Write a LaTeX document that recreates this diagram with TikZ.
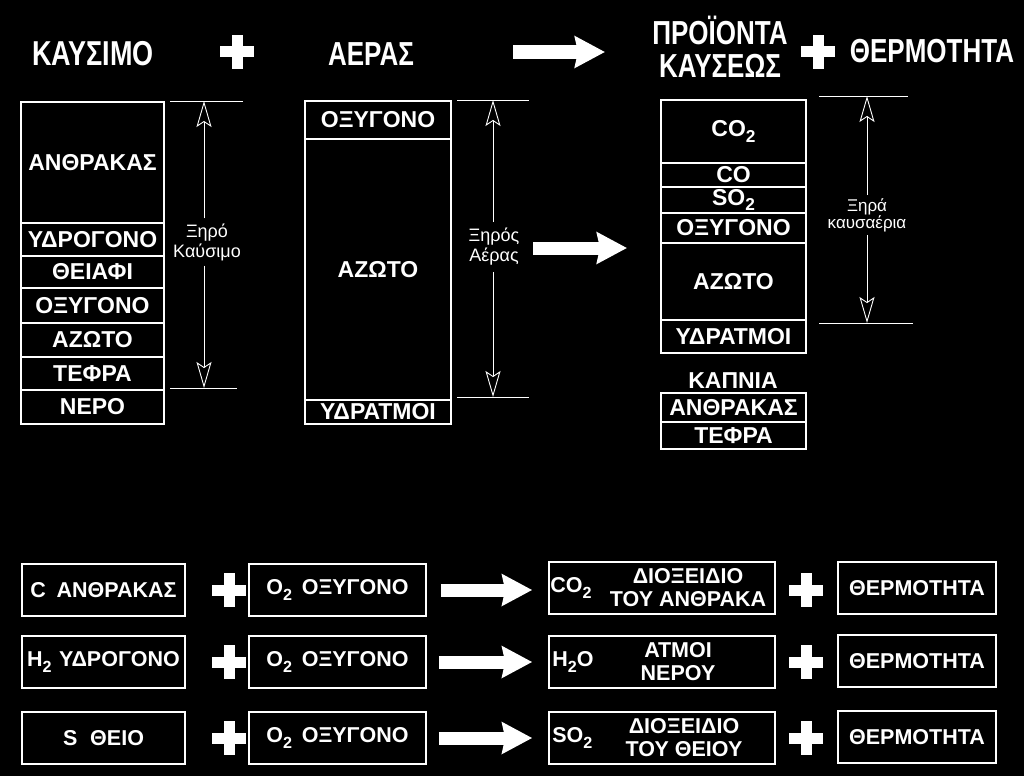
\documentclass[tikz,border=0pt]{standalone}
\usepackage{fontspec}
\setmainfont{Liberation Sans}
\usepackage{graphicx}
\usetikzlibrary{arrows.meta, positioning}

\newcommand{\tallhead}[1]{\scalebox{1}[1.28]{#1}}
\newcommand{\lowsub}[1]{\raisebox{-0.45ex}{\scalebox{0.75}{#1}}}

\begin{document}
\begin{tikzpicture}[
    x=1pt,
    y=-1pt,
    every node/.style={text=white},
    cell/.style={draw=white, line width=1.6pt, inner sep=0pt, anchor=north, font=\fontsize{23pt}{25pt}\selectfont\bfseries},
    header/.style={font=\fontsize{26pt}{25pt}\selectfont\bfseries},
    dimtext/.style={align=center, inner sep=5pt, font=\fontsize{18pt}{20pt}\selectfont},
    dimline/.style={draw=white, line width=0.9pt},
    dimarrow/.style={dimline, -{Stealth[open, length=26pt, width=15pt, inset=5pt]}},
    bigarrow/.style={draw=white, line width=13pt, -{Stealth[length=30pt, width=31pt, inset=3pt]}},
    eqbox/.style={draw=white, line width=1.6pt, minimum height=52pt, inner sep=2pt, font=\fontsize{21.5pt}{23pt}\selectfont\bfseries},
    eqtext/.style={inner sep=0pt, align=center, font=\fontsize{21.5pt}{23pt}\selectfont\bfseries},
    crosssign/.pic={\fill[white] (-17,-5.5) rectangle (17,5.5); \fill[white] (-5.5,-17) rectangle (5.5,17);}
]

% Background
\fill[black] (0,0) rectangle (1024,776);
\useasboundingbox (0,0) rectangle (1024,776);

% Headers
\node[header, font=\fontsize{27pt}{25pt}\selectfont\bfseries] (fuelHead) at (93,54) {\tallhead{ΚΑΥΣΙΜΟ}};
\pic at (237,52) {crosssign};
\node[header] (airHead) at (371,54) {\tallhead{ΑΕΡΑΣ}};
\coordinate (hdrArrowS) at (513,52);
\coordinate (hdrArrowE) at (605,52);
\draw[bigarrow] (hdrArrowS) -- (hdrArrowE);
\node[header] (prodHead) at (720,52) {\tallhead{\begin{tabular}{@{}c@{}}ΠΡΟΪΟΝΤΑ\\ΚΑΥΣΕΩΣ\end{tabular}}};
\pic at (818,52) {crosssign};
\node[header] (heatHead) at (932,51) {\tallhead{ΘΕΡΜΟΤΗΤΑ}};

% Fuel column
\node[cell, minimum width=143pt, minimum height=121pt] (fuelC) at (92.5,101) {ΑΝΘΡΑΚΑΣ};
\node[cell, minimum width=143pt, minimum height=33pt] (fuelH) at (92.5,222) {ΥΔΡΟΓΟΝΟ};
\node[cell, minimum width=143pt, minimum height=32pt] (fuelS) at (92.5,255) {ΘΕΙΑΦΙ};
\node[cell, minimum width=143pt, minimum height=35pt] (fuelO) at (92.5,287) {ΟΞΥΓΟΝΟ};
\node[cell, minimum width=143pt, minimum height=34pt] (fuelN) at (92.5,322) {ΑΖΩΤΟ};
\node[cell, minimum width=143pt, minimum height=33pt] (fuelAsh) at (92.5,356) {ΤΕΦΡΑ};
\node[cell, minimum width=143pt, minimum height=34pt] (fuelW) at (92.5,389) {ΝΕΡΟ};

% Dry fuel dimension
\coordinate (fuelTopL) at (170,101);
\coordinate (fuelTopR) at (243,101);
\coordinate (fuelBotL) at (170,388);
\coordinate (fuelBotR) at (237,388);
\coordinate (fuelTip) at (204,101);
\coordinate (fuelTipB) at (204,388);
\draw[dimline] (fuelTopL) -- (fuelTopR);
\draw[dimline] (fuelBotL) -- (fuelBotR);
\node[dimtext] (fuelDim) at (207,242) {Ξηρό\\Καύσιμο};
\draw[dimarrow] (fuelTip |- fuelDim.north) -- (fuelTip);
\draw[dimarrow] (fuelTipB |- fuelDim.south) -- (fuelTipB);

% Air column
\node[cell, minimum width=146pt, minimum height=38pt] (airO) at (378,100) {ΟΞΥΓΟΝΟ};
\node[cell, minimum width=146pt, minimum height=261pt] (airN) at (378,138) {ΑΖΩΤΟ};
\node[cell, minimum width=146pt, minimum height=24pt] (airW) at (378,399) {ΥΔΡΑΤΜΟΙ};

% Dry air dimension
\coordinate (airTopL) at (457,100);
\coordinate (airTopR) at (529,100);
\coordinate (airBotL) at (457,397);
\coordinate (airBotR) at (529,397);
\coordinate (airTip) at (493,100);
\coordinate (airTipB) at (493,397);
\draw[dimline] (airTopL) -- (airTopR);
\draw[dimline] (airBotL) -- (airBotR);
\node[dimtext, inner sep=6pt] (airDim) at (494,247) {Ξηρός\\Αέρας};
\draw[dimarrow] (airTip |- airDim.north) -- (airTip);
\draw[dimarrow] (airTipB |- airDim.south) -- (airTipB);

% Middle arrow
\coordinate (midArrowS) at (533,248);
\coordinate (midArrowE) at (627,248);
\draw[bigarrow] (midArrowS) -- (midArrowE);

% Products column
\node[cell, minimum width=145pt, minimum height=63pt] (prodCO2) at (733.5,99) {CO\lowsub{2}};
\node[cell, minimum width=145pt, minimum height=24pt] (prodCO) at (733.5,162) {CO};
\node[cell, minimum width=145pt, minimum height=26pt] (prodSO2) at (733.5,186) {SO\lowsub{2}};
\node[cell, minimum width=145pt, minimum height=30pt] (prodO) at (733.5,212) {ΟΞΥΓΟΝΟ};
\node[cell, minimum width=145pt, minimum height=77pt] (prodN) at (733.5,242) {ΑΖΩΤΟ};
\node[cell, minimum width=145pt, minimum height=33pt] (prodW) at (733.5,319) {ΥΔΡΑΤΜΟΙ};

% Dry flue gas dimension
\coordinate (prodTopL) at (819,96);
\coordinate (prodTopR) at (908,96);
\coordinate (prodBotL) at (819,323);
\coordinate (prodBotR) at (913,323);
\coordinate (prodTip) at (867,96);
\coordinate (prodTipB) at (867,323);
\draw[dimline] (prodTopL) -- (prodTopR);
\draw[dimline] (prodBotL) -- (prodBotR);
\node[dimtext, inner sep=3pt, font=\fontsize{17pt}{17pt}\selectfont] (prodDim) at (867,215) {Ξηρά\\καυσαέρια};
\draw[dimarrow] (prodTip |- prodDim.north) -- (prodTip);
\draw[dimarrow] (prodTipB |- prodDim.south) -- (prodTipB);

% Soot
\node[cell, anchor=center, draw=none] (sootHead) at (733,381) {ΚΑΠΝΙΑ};
\node[cell, minimum width=145pt, minimum height=29pt] (sootC) at (733.5,392) {ΑΝΘΡΑΚΑΣ};
\node[cell, minimum width=145pt, minimum height=27pt] (sootAsh) at (733.5,421) {ΤΕΦΡΑ};

% Reaction C
\node[eqbox, minimum width=163pt] (cBox) at (103.5,590) {C\hspace{0.5em}ΑΝΘΡΑΚΑΣ};
\pic at (229,590) {crosssign};
\node[eqbox, minimum width=177pt] (oBoxA) at (337.5,590) {O\lowsub{2}\hspace{0.45em}ΟΞΥΓΟΝΟ};
\node[eqbox, minimum width=226pt] (co2Box) at (662,588) {};
\node[eqtext, anchor=west] (co2Formula) at ([xshift=2pt]co2Box.west) {CO\lowsub{2}};
\node[eqtext] (co2Name) at ([xshift=26pt]co2Box.center) {ΔΙΟΞΕΙΔΙΟ\\ΤΟΥ ΑΝΘΡΑΚΑ};
\draw[bigarrow, shorten <=14pt, shorten >=16pt] (oBoxA.east) -- (co2Box.west |- oBoxA.east);
\pic at (806,590) {crosssign};
\node[eqbox, minimum width=158pt] (heatA) at (917,588) {ΘΕΡΜΟΤΗΤΑ};

% Reaction H2
\node[eqbox, minimum width=163pt] (hBox) at (103.5,662) {H\lowsub{2}\hspace{0.35em}ΥΔΡΟΓΟΝΟ};
\pic at (229,662) {crosssign};
\node[eqbox, minimum width=177pt] (oBoxB) at (337.5,662) {O\lowsub{2}\hspace{0.45em}ΟΞΥΓΟΝΟ};
\node[eqbox, minimum width=226pt] (h2oBox) at (662,662) {};
\node[eqtext, anchor=west] (h2oFormula) at ([xshift=4pt]h2oBox.west) {H\lowsub{2}O};
\node[eqtext] (h2oName) at ([xshift=16pt]h2oBox.center) {ΑΤΜΟΙ\\ΝΕΡΟΥ};
\draw[bigarrow, shorten <=12pt, shorten >=16pt] (oBoxB.east) -- (h2oBox.west);
\pic at (806,662) {crosssign};
\node[eqbox, minimum width=158pt] (heatB) at (917,661) {ΘΕΡΜΟΤΗΤΑ};

% Reaction S
\node[eqbox, minimum width=163pt] (sBox) at (103.5,738) {S\hspace{0.6em}ΘΕΙΟ};
\pic at (229,738) {crosssign};
\node[eqbox, minimum width=177pt] (oBoxC) at (337.5,738) {O\lowsub{2}\hspace{0.45em}ΟΞΥΓΟΝΟ};
\node[eqbox, minimum width=226pt] (so2Box) at (662,738) {};
\node[eqtext, anchor=west] (so2Formula) at ([xshift=4pt]so2Box.west) {SO\lowsub{2}};
\node[eqtext] (so2Name) at ([xshift=22pt]so2Box.center) {ΔΙΟΞΕΙΔΙΟ\\ΤΟΥ ΘΕΙΟΥ};
\draw[bigarrow, shorten <=12pt, shorten >=16pt] (oBoxC.east) -- (so2Box.west);
\pic at (806,738) {crosssign};
\node[eqbox, minimum width=158pt] (heatC) at (917,737) {ΘΕΡΜΟΤΗΤΑ};

\end{tikzpicture}
\end{document}
